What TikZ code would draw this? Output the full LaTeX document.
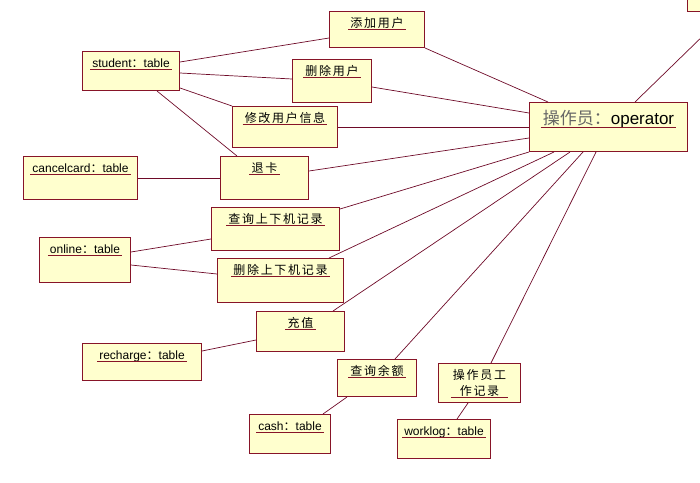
\documentclass[tikz,border=0pt]{standalone}
\usepackage{fontspec}
\setmainfont{Liberation Sans}
\newfontfamily\cjk[LetterSpace=14]{Noto Sans CJK SC}
\newfontfamily\cjkplain{Noto Sans CJK SC}
\definecolor{boxfill}{RGB}{255,255,206}
\definecolor{boxline}{RGB}{135,20,40}
\definecolor{linkcol}{RGB}{110,10,40}
\newcommand{\cc}{{\cjkplain ：}}
\begin{document}
\begin{tikzpicture}[x=1pt,y=-1pt,
  box/.style={draw=boxline,fill=boxfill,line width=1pt,anchor=north west,inner sep=0pt},
  lbl/.style={anchor=base,inner xsep=2pt,inner ysep=0pt,text height=9pt,text depth=2.5pt,font=\fontsize{12}{14}\selectfont},
  biglbl/.style={anchor=base,inner xsep=2pt,inner ysep=0pt,text height=12pt,text depth=3pt,font=\fontsize{17}{20}\selectfont},
  uline/.style={draw=boxline,line width=0.8pt},
  link/.style={draw=linkcol,line width=0.7pt}]
\useasboundingbox (0,0) rectangle (700,482);
\clip (0,0) rectangle (700,482);
% boxes
\node[box,minimum width=95pt,minimum height=36pt] (add) at (329,11) {};
\node[box,minimum width=97pt,minimum height=39pt] (student) at (82,51) {};
\node[box,minimum width=79pt,minimum height=43pt] (del) at (292,59) {};
\node[box,minimum width=105pt,minimum height=41pt] (mod) at (232,106) {};
\node[box,minimum width=88pt,minimum height=43pt] (quit) at (220,156) {};
\node[box,minimum width=114pt,minimum height=43pt] (cancel) at (23,156) {};
\node[box,minimum width=158pt,minimum height=49pt] (op) at (529,102) {};
\node[box,minimum width=80pt,minimum height=40pt] (tr) at (687,-29) {};
\node[box,minimum width=128pt,minimum height=43pt] (qry) at (211,207) {};
\node[box,minimum width=91pt,minimum height=45pt] (online) at (39,237) {};
\node[box,minimum width=126pt,minimum height=44pt] (delrec) at (217,258) {};
\node[box,minimum width=88pt,minimum height=40pt] (charge) at (256,311) {};
\node[box,minimum width=119pt,minimum height=37pt] (recharge) at (82,343) {};
\node[box,minimum width=79pt,minimum height=37pt] (bal) at (337,359) {};
\node[box,minimum width=82pt,minimum height=39pt] (wl) at (438,363) {};
\node[box,minimum width=81pt,minimum height=39pt] (cash) at (249,414) {};
\node[box,minimum width=93pt,minimum height=39pt] (worklog) at (397,419) {};
% labels
\node[lbl] (addT) at ([yshift=-16pt]add.north) {\cjk 添加用户};
\node[lbl] (studentT) at ([yshift=-16pt]student.north) {student\cc table};
\node[lbl] (delT) at ([yshift=-16pt]del.north) {\cjk 删除用户};
\node[lbl] (modT) at ([yshift=-16pt]mod.north) {\cjk 修改用户信息};
\node[lbl] (quitT) at ([yshift=-16pt]quit.north) {\cjk 退卡};
\node[lbl] (cancelT) at ([yshift=-16pt]cancel.north) {cancelcard\cc table};
\node[biglbl] (opT) at ([yshift=-22pt]op.north) {{\cjkplain\color{black!60}操作员：}operator};
\node[lbl] (qryT) at ([yshift=-16pt]qry.north) {\cjk 查询上下机记录};
\node[lbl] (onlineT) at ([yshift=-16pt]online.north) {online\cc table};
\node[lbl] (delrecT) at ([yshift=-16pt]delrec.north) {\cjk 删除上下机记录};
\node[lbl] (chargeT) at ([yshift=-16pt]charge.north) {\cjk 充值};
\node[lbl] (rechargeT) at ([yshift=-16pt]recharge.north) {recharge\cc table};
\node[lbl] (balT) at ([yshift=-16pt]bal.north) {\cjk 查询余额};
\node[anchor=south,inner xsep=2pt,inner ysep=0pt,align=center,font=\fontsize{12}{16}\selectfont] (wlT) at ([yshift=-34pt]wl.north) {\cjk 操作员工\\\cjk 作记录};
\node[lbl] (cashT) at ([yshift=-16pt]cash.north) {cash\cc table};
\node[lbl] (worklogT) at ([yshift=-16pt]worklog.north) {worklog\cc table};
% underlines
\foreach \t in {addT,studentT,delT,modT,quitT,cancelT,opT,qryT,onlineT,delrecT,chargeT,rechargeT,balT,wlT,cashT,worklogT}
  \draw[uline] (\t.south west) -- (\t.south east);
% connectors
\draw[link] (student.east |- 0,62) -- (add.west |- 0,38);
\draw[link] (student.east |- 0,73) -- (del.west |- 0,79);
\draw[link] (student.east |- 0,88) -- (mod.north west);
\draw[link] (157,0 |- student.south) -- (237,0 |- quit.north);
\draw[link] (cancel.east |- 0,178) -- (quit.west |- 0,178);
\draw[link] (add.south east) -- (548,0 |- op.north);
\draw[link] (del.east |- 0,87) -- (op.west |- 0,113);
\draw[link] (mod.east |- 0,127) -- (op.west |- 0,127);
\draw[link] (quit.east |- 0,171) -- (op.west |- 0,138);
\draw[link] (op.south west) -- (qry.east |- 0,209);
\draw[link] (554,0 |- op.south) -- (329,0 |- delrec.north);
\draw[link] (570,0 |- op.south) -- (333,0 |- charge.north);
\draw[link] (583,0 |- op.south) -- (395,0 |- bal.north);
\draw[link] (596,0 |- op.south) -- (491,0 |- wl.north);
\draw[link] (635,0 |- op.north) -- (tr.south);
\draw[link] (online.east |- 0,252) -- (qry.west |- 0,239);
\draw[link] (online.east |- 0,265) -- (delrec.west |- 0,274);
\draw[link] (recharge.east |- 0,351) -- (charge.west |- 0,340);
\draw[link] (347,0 |- bal.south) -- (323,0 |- cash.north);
\draw[link] (468,0 |- wl.south) -- (457,0 |- worklog.north);
\end{tikzpicture}
\end{document}
